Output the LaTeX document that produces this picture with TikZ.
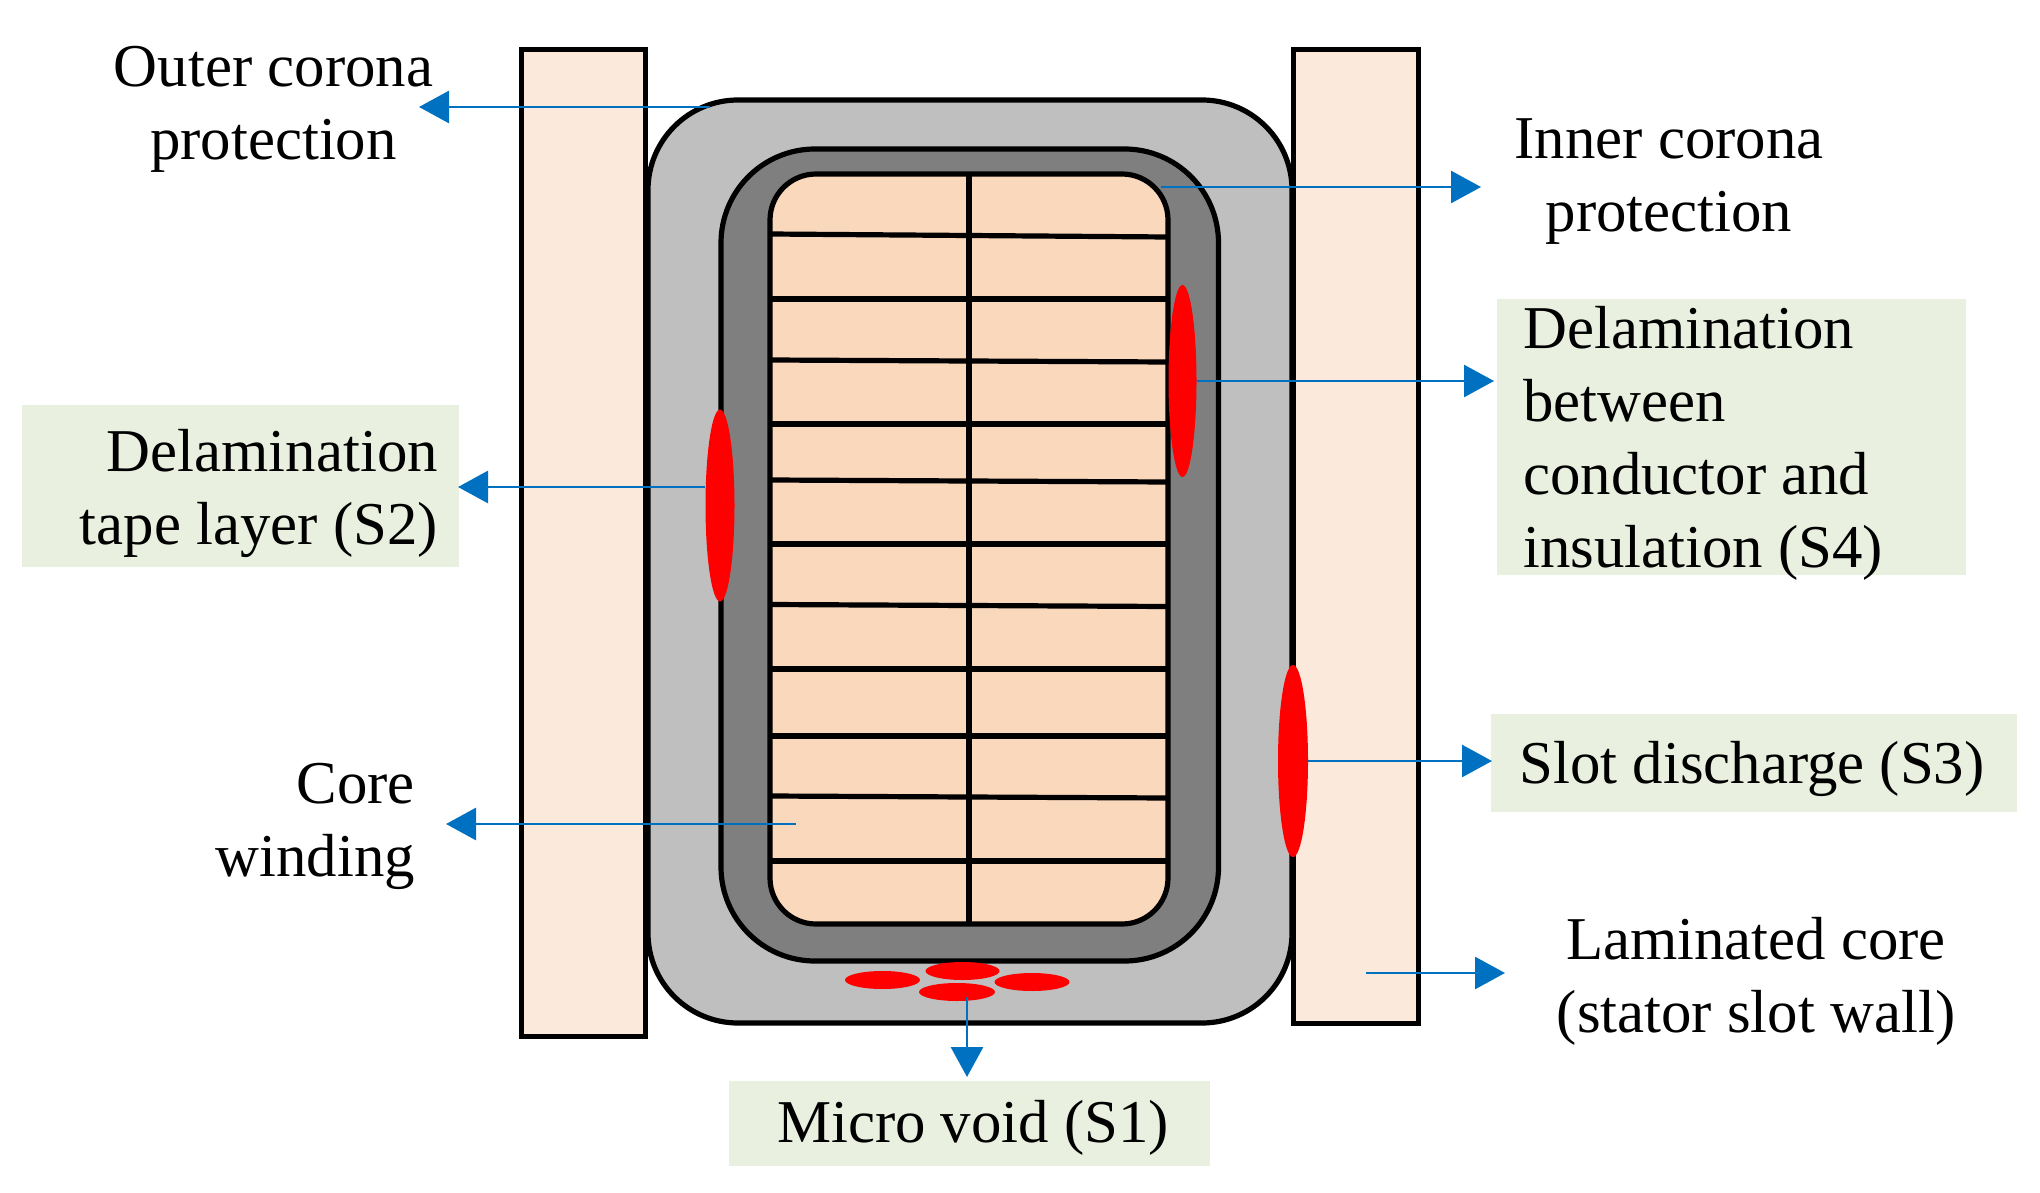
\documentclass[tikz,border=0pt]{standalone}
\usepackage{fontspec}
\setmainfont{Liberation Serif}
\usetikzlibrary{arrows.meta,shapes.geometric}
\definecolor{wallc}{HTML}{FBE9DB}
\definecolor{shellc}{HTML}{BFBFBF}
\definecolor{midc}{HTML}{7F7F7F}
\definecolor{windc}{HTML}{FAD8BC}
\definecolor{boxc}{HTML}{EAF0DF}
\definecolor{bluec}{HTML}{0070C0}
\tikzset{
  wall/.style={draw=black,line width=5pt,fill=wallc},
  outline/.style={draw=black,line width=5.2pt},
  bar/.style={draw=black,line width=5.2pt},
  void/.style={ellipse,fill=red,draw=none,inner sep=0pt,minimum width=#1},
  lab/.style={font=\fontsize{60.8}{73}\selectfont,inner sep=0pt,text=black},
  bg/.style={fill=boxc,draw=none},
  arr/.style={draw=bluec,line width=2.8pt,-{Triangle[length=30pt,width=32pt,fill=bluec]}}
}
\begin{document}
\begin{tikzpicture}[x=1pt,y=-1pt]
\useasboundingbox (0,0) rectangle (2040,1193);
% label backgrounds
\fill[bg] (22,405) rectangle (459,567);
\fill[bg] (1497,299) rectangle (1966,575);
\fill[bg] (1491,714) rectangle (2017,812);
\fill[bg] (729,1081) rectangle (1210,1166);
% walls
\draw[wall] (521,50) rectangle (645.5,1036);
\draw[wall] (1293,50) rectangle (1418,1023);
% insulation layers
\draw[outline,fill=shellc,rounded corners=90pt] (648,100) rectangle (1292,1023);
\draw[outline,fill=midc,rounded corners=94pt] (721,149) rectangle (1218.5,961);
\draw[outline,fill=windc,rounded corners=46pt] (770,174) rectangle (1168,924);
% winding dividers
\foreach \a/\b in {234/237,299/299,360/362,424/424,480/482,544/544,604.5/606.5,669/669,736/736,796/798,861/861}{
  \draw[bar] (770,\a) -- (1168,\b);
}
\draw[bar] (969,174) -- (969,924);
% defects
\node[void=29pt,minimum height=192pt] (s2) at (720,505.5) {};
\node[void=28pt,minimum height=192pt] (s4) at (1182.5,381) {};
\node[void=30pt,minimum height=192pt] (s3) at (1293,761) {};
\node[void=75pt,minimum height=18pt] (s1a) at (882.5,980) {};
\node[void=74pt,minimum height=18pt] (s1b) at (962.5,971) {};
\node[void=75pt,minimum height=18pt] (s1c) at (1032,982) {};
\node[void=76pt,minimum height=18pt] (s1d) at (957,992) {};
% labels
\node[lab,align=center] (outer) at (273.5,109) {Outer corona\\protection};
\node[lab,align=center] (inner) at (1669,182) {Inner corona\\protection};
\node[lab,align=right,anchor=east] (ls2) at (438,493) {Delamination\\tape layer (S2)};
\node[lab,align=left,anchor=west] (ls4) at (1523,443) {Delamination\\between\\conductor and\\insulation (S4)};
\node[lab] (ls3) at (1752,769) {Slot discharge (S3)};
\node[lab,align=right,anchor=east] (core) at (415,826) {Core\\winding};
\node[lab,align=center] (lam) at (1756,981) {Laminated core\\(stator slot wall)};
\node[lab] (ls1) at (973,1128) {Micro void (S1)};
% connector ends
\coordinate (outerS) at (710,107);
\coordinate (outerT) at (419,107);
\coordinate (innerS) at (1161,187);
\coordinate (innerT) at (1481,187);
\coordinate (s2T) at (458,487);
\coordinate (s4T) at (1494,381);
\coordinate (s3T) at (1492,761);
\coordinate (coreS) at (796,824);
\coordinate (coreT) at (446,824);
\coordinate (lamS) at (1366,973);
\coordinate (lamT) at (1505,973);
\coordinate (s1S) at (967,997);
\coordinate (s1T) at (967,1077);
% connectors
\draw[arr] (outerS) -- (outerT);
\draw[arr] (innerS) -- (innerT);
\draw[arr] (s2.west |- s2T) -- (s2T);
\draw[arr] (s4.east) -- (s4T);
\draw[arr] (s3.east) -- (s3T);
\draw[arr] (coreS) -- (coreT);
\draw[arr] (lamS) -- (lamT);
\draw[arr] (s1S) -- (s1T);
\end{tikzpicture}
\end{document}
